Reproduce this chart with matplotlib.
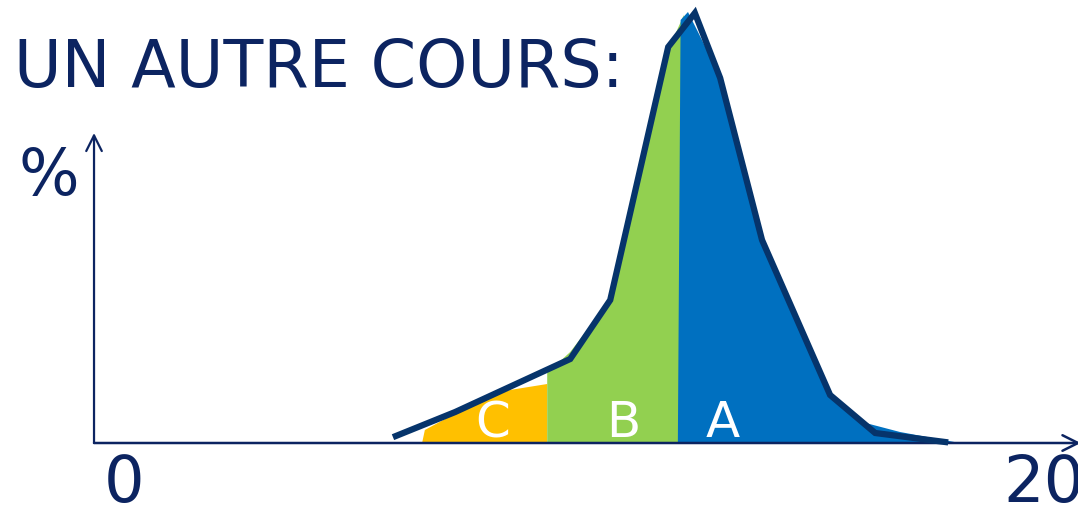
import matplotlib.pyplot as plt

# distribution curve (x = note sur 20, y = %)
curve_x = [5.91, 7.20, 9.70, 10.57, 11.83, 12.41, 12.96, 13.87, 15.35, 16.33, 17.85]
curve_y = [0.7, 3.1, 8.4, 14.3, 39.6, 43.0, 36.5, 20.3, 4.8, 1.0, 0.1]

# filled zones under the curve
c_x = [6.48, 6.54, 7.74, 8.39, 9.2, 9.2]
c_y = [0.0, 1.3, 4.3, 5.3, 5.9, 0.0]
b_x = [9.2, 9.2, 9.7, 10.57, 11.83, 12.17, 12.1]
b_y = [0.0, 7.0, 9.1, 14.3, 39.3, 42.8, 0.0]
a_x = [12.04, 12.1, 12.26, 12.41, 12.26, 13.0, 13.87, 14.48, 15.35, 16.04, 16.87, 18.17]
a_y = [0.0, 42.3, 43.1, 43.1, 43.1, 36.3, 20.8, 13.3, 5.1, 2.1, 1.1, 0.0]

zones = ["C", "B", "A"]
zone_colors = ["#FFC000", "#92D050", "#0070C0"]
zone_label_x = [8.02, 10.85, 13.02]

navy = "#0c2461"
line_col = "#06346b"

fig = plt.figure(figsize=(10.78, 5.05), dpi=100)
ax = fig.add_axes([0, 0, 1, 1])
ax.set_xlim(-2.696, 20.739)
ax.set_ylim(-6.2, 44.3)
ax.axis("off")

for (zx, zy), col in zip([(c_x, c_y), (b_x, b_y), (a_x, a_y)], zone_colors):
    ax.fill(zx, zy, color=col, lw=0)

ax.plot(curve_x, curve_y, color=line_col, lw=4.5, solid_joinstyle="miter", zorder=3)

# axes with arrows
ax.annotate("", xy=(-0.652, 31.0), xytext=(-0.652, 0), annotation_clip=False,
            arrowprops=dict(arrowstyle="->", color=navy, lw=1.6, mutation_scale=28,
                            shrinkA=0, shrinkB=0))
ax.annotate("", xy=(20.8, 0), xytext=(-0.652, 0), annotation_clip=False,
            arrowprops=dict(arrowstyle="->", color=navy, lw=1.8, mutation_scale=28,
                            shrinkA=0, shrinkB=0), zorder=2)

for lab, lx in zip(zones, zone_label_x):
    ax.text(lx, 0.6, lab, color="white", fontsize=36, ha="center", va="baseline", zorder=4)

ax.text(-2.39, 35.6, "UN AUTRE COURS:", color=navy, fontsize=47, ha="left", va="baseline")
ax.text(-2.3, 24.8, "%", color=navy, fontsize=46, ha="left", va="baseline")
ax.text(0, -5.9, "0", color=navy, fontsize=46, ha="center", va="baseline")
ax.text(20, -5.9, "20", color=navy, fontsize=46, ha="center", va="baseline")

fig.savefig("out.png", dpi=100)
